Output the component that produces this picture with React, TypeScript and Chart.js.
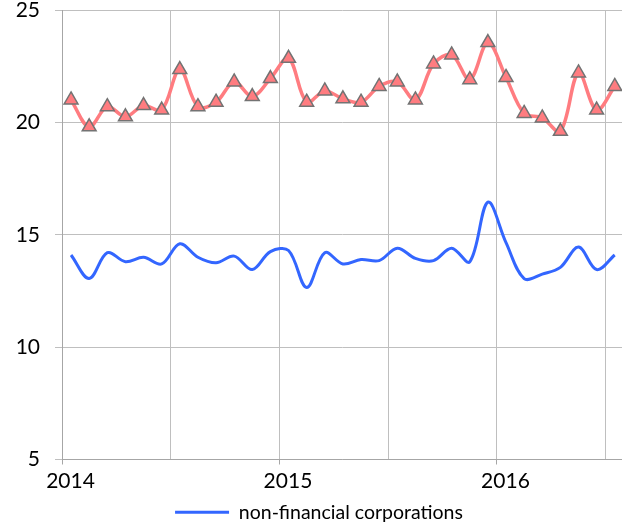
import React, { useEffect, useRef } from "react";
import { Chart, registerables } from "chart.js";

Chart.register(...registerables);

// Monthly observations, Jan 2014 .. Jul 2016
const months: string[] = [
  "2014-01", "2014-02", "2014-03", "2014-04", "2014-05", "2014-06",
  "2014-07", "2014-08", "2014-09", "2014-10", "2014-11", "2014-12",
  "2015-01", "2015-02", "2015-03", "2015-04", "2015-05", "2015-06",
  "2015-07", "2015-08", "2015-09", "2015-10", "2015-11", "2015-12",
  "2016-01", "2016-02", "2016-03", "2016-04", "2016-05", "2016-06",
  "2016-07",
];

const nonFinancialCorporations: number[] = [
  14.1, 13.05, 14.2, 13.8, 14.0, 13.7, 14.6, 14.0, 13.75, 14.05, 13.45, 14.25,
  14.3, 12.65, 14.2, 13.7, 13.9, 13.85, 14.4, 13.95, 13.85, 14.4, 13.8, 16.45,
  14.65, 13.05, 13.25, 13.55, 14.45, 13.45, 14.1,
];

const otherSeries: number[] = [
  21.0, 19.8, 20.7, 20.25, 20.75, 20.55, 22.35, 20.7, 20.9, 21.8, 21.15, 21.95,
  22.85, 20.9, 21.4, 21.05, 20.9, 21.6, 21.8, 21.0, 22.6, 23.0, 21.9, 23.55,
  22.0, 20.4, 20.2, 19.6, 22.2, 20.55, 21.6,
];

const yearTicks: number[] = [0, 6, 12, 18, 24, 30];
const startYear = 2014;

const FONT = "Lato, 'Open Sans', sans-serif";

function toPoints(values: number[]) {
  // month index -> middle of the month on a linear month axis
  return months.map((_, i) => ({ x: i + 0.5, y: values[i] }));
}

export default function App() {
  const ref = useRef<HTMLCanvasElement | null>(null);

  useEffect(() => {
    if (!ref.current) return;
    const chart = new Chart(ref.current, {
      type: "line",
      data: {
        datasets: [
          {
            label: "non-financial corporations",
            data: toPoints(nonFinancialCorporations),
            borderColor: "#3366FF",
            backgroundColor: "#3366FF",
            borderWidth: 3,
            pointRadius: 0,
            tension: 0.35,
          },
          {
            label: "other",
            data: toPoints(otherSeries),
            borderColor: "#FF7C80",
            backgroundColor: "#FF7C80",
            borderWidth: 3.5,
            pointStyle: "triangle",
            pointRadius: 8,
            pointBackgroundColor: "#FF7C80",
            pointBorderColor: "#737373",
            pointBorderWidth: 1.5,
            tension: 0.35,
          },
        ],
      },
      options: {
        responsive: false,
        animation: false,
        layout: { autoPadding: false, padding: { left: 16, top: 10, right: 0, bottom: -10 } },
        plugins: {
          tooltip: { enabled: false },
          legend: {
            position: "bottom",
            labels: {
              font: { family: FONT, size: 19.5 },
              color: "#000",
              boxWidth: 54,
              boxHeight: 3,
              padding: 0,
              filter: (item: any) => item.datasetIndex === 0,
              generateLabels: (c: any) =>
                c.data.datasets.map((ds: any, i: number) => ({
                  text: ds.label,
                  fillStyle: ds.borderColor,
                  strokeStyle: ds.borderColor,
                  lineWidth: 0,
                  datasetIndex: i,
                  hidden: false,
                  fontColor: "#000",
                })),
            },
          },
        },
        scales: {
          x: {
            type: "linear",
            min: 0,
            max: 30.9,
            afterBuildTicks: (s: any) => {
              s.ticks = yearTicks.map((v) => ({ value: v }));
            },
            afterFit: (s: any) => {
              s.height = 43;
              s.paddingLeft = 0;
              s.paddingRight = 0;
            },
            ticks: {
              autoSkip: false,
              maxRotation: 0,
              labelOffset: 8.5,
              padding: 4,
              color: "#000",
              font: { family: FONT, size: 21 },
              callback: (v: any) => (Number(v) % 12 === 0 ? String(startYear + Number(v) / 12) : ""),
            },
            grid: {
              color: "#BFBFBF",
              lineWidth: 1,
              tickLength: 5,
              tickColor: (ctx: any) =>
                ctx.tick && ctx.tick.value % 12 === 0 ? "#A6A6A6" : "rgba(0,0,0,0)",
            },
            border: { color: "#A6A6A6", width: 1 },
          },
          y: {
            min: 5,
            max: 25,
            afterFit: (s: any) => {
              s.width = 46;
              s.paddingTop = 0;
              s.paddingBottom = 0;
            },
            ticks: {
              stepSize: 5,
              padding: 15,
              color: "#000",
              font: { family: FONT, size: 21 },
            },
            grid: {
              color: "#BFBFBF",
              lineWidth: 1,
              tickLength: 7,
              tickColor: "#BFBFBF",
            },
            border: { color: "#A6A6A6", width: 1 },
          },
        },
      },
    } as any);
    return () => chart.destroy();
  }, []);

  return (
    <div style={{ position: "fixed", left: 0, top: 0, width: 622, height: 522, background: "#fff" }}>
      <canvas ref={ref} width={622} height={522} />
    </div>
  );
}
